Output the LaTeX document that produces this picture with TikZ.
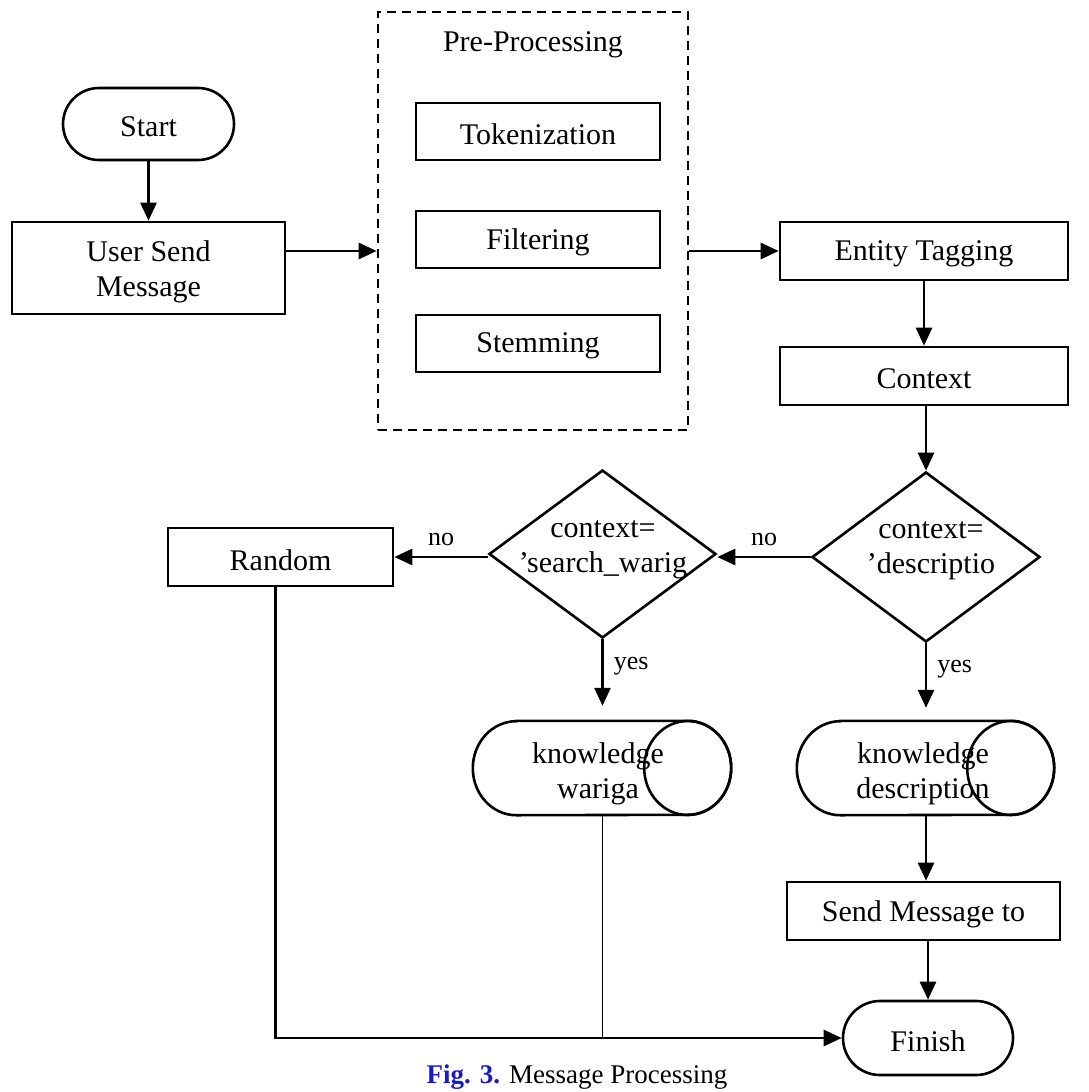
\documentclass[tikz,border=0pt]{standalone}
\usepackage{fontspec}
\setmainfont{Liberation Serif}
\usetikzlibrary{arrows.meta,shapes.geometric,calc}
\definecolor{figblue}{RGB}{25,25,200}
\begin{document}
\begin{tikzpicture}[x=1pt,y=-1pt,
  every node/.style={font=\fontsize{30}{35}\selectfont, inner sep=0pt},
  boxn/.style={draw, line width=2.6pt, rectangle, align=center},
  term/.style={draw, line width=2.6pt, rectangle, rounded corners=36pt},
  dec/.style={draw, line width=2.6pt, diamond, aspect=1.34},
  cylbox/.style={rectangle, align=center},
  lab/.style={font=\fontsize{26}{28}\selectfont},
  arr/.style={line width=2.6pt, -{Triangle[length=18pt,width=16pt]}},
  thinl/.style={line width=0.8pt}]
\useasboundingbox (0,0) rectangle (1089,1092);

% Start and user
\node[term, minimum width=171pt, minimum height=72pt] (start) at (148.5,124) {};
\node (startt) at (148.5,127) {Start};
\node[boxn, minimum width=273pt, minimum height=92pt] (user) at (148.5,268) {};
\node[align=center] (usert) at (148.5,272) {User Send\\Message};

% Pre-processing
\node[draw, line width=2.6pt, dash pattern=on 9pt off 6pt, minimum width=310pt, minimum height=418pt] (pre) at (533,221) {};
\node (pretitle) at (533,45) {Pre-Processing};
\node[boxn, minimum width=244pt, minimum height=57pt] (tok) at (538,131.5) {};
\node (tokt) at (538,134) {Tokenization};
\node[boxn, minimum width=244pt, minimum height=57pt] (fil) at (538,239.5) {};
\node (filt) at (538,242) {Filtering};
\node[boxn, minimum width=244pt, minimum height=57pt] (stem) at (538,343.5) {};
\node (stemt) at (538,346) {Stemming};

% right column
\node[boxn, minimum width=288pt, minimum height=58pt] (et) at (924,251) {};
\node (ett) at (924,254) {Entity Tagging};
\node[boxn, minimum width=288pt, minimum height=58pt] (ctx) at (924,376) {};
\node (ctxt) at (924,379) {Context};

% decisions
\node[dec, minimum width=228pt, minimum height=170pt] (d1) at (926,557) {};
\node[align=center] (d1t) at (931,551) {context=\\’descriptio};
\node[dec, minimum width=227pt, minimum height=168pt] (d2) at (602.5,554) {};
\node[align=center] (d2t) at (603,550) {context=\\’search\_warig};

\node[boxn, minimum width=225pt, minimum height=58pt] (rand) at (280.5,557) {};
\node (randt) at (280.5,560) {Random};

% cylinders
\node[cylbox, minimum width=258pt, minimum height=94pt] (kw) at (602,768) {};
\node[align=center] (kwt) at (598,774) {knowledge\\wariga};
\node[cylbox, minimum width=257pt, minimum height=94pt] (kd) at (925.5,768) {};
\node[align=center] (kdt) at (923,774) {knowledge\\description};
\foreach \c in {kw,kd}{
  \draw[line width=2.6pt] ([xshift=43.5pt]\c.north west) -- ([xshift=-43.5pt]\c.north east)
     arc[start angle=90,end angle=-90,x radius=43.5pt,y radius=47pt]
     -- ([xshift=43.5pt]\c.south west)
     arc[start angle=270,end angle=90,x radius=43.5pt,y radius=47pt] -- cycle;
  \draw[line width=2.6pt] ([xshift=-43.5pt]\c.east) ellipse[x radius=43.5pt,y radius=47pt];
}

\node[boxn, minimum width=273pt, minimum height=58pt] (send) at (923.5,911) {};
\node (sendt) at (923.5,914) {Send Message to};
\node[term, minimum width=170pt, minimum height=74pt, rounded corners=37pt] (fin) at (928,1038) {};
\node (fint) at (928,1041) {Finish};

% caption
\node[font=\fontsize{27}{30}\selectfont] (cap) at (577,1077) {\textcolor{figblue}{\textbf{Fig. 3.}} Message Processing};

% connectors
\draw[arr] (start) -- (user);
\draw[arr] (user.east |- et.west) -- (pre.west |- et.west);
\draw[arr] (pre.east |- et.west) -- (et.west);
\draw[arr] (et.south -| ctx.north) -- (ctx.north);
\draw[arr] (ctx.south -| d1.north) -- (d1.north);
\draw[arr] (d1.west) -- (d2.east |- d1.west) node[lab, midway, above=10pt] (no1) {no};
\draw[arr] (d2.west |- d1.west) -- (rand.east) node[lab, midway, above=10pt] (no2) {no};
\draw[arr] (d2.south) -- ([yshift=15pt]d2.south |- kw.north) node[lab, pos=0.4, right=10pt] (yes2) {yes};
\draw[arr] (d1.south) -- ([yshift=13pt]d1.south |- kd.north) node[lab, pos=0.4, right=10pt] (yes1) {yes};
\draw[arr] (kd.south -| d1.south) -- (d1.south |- send.north);
\draw[arr] (send.south -| fin.north) -- (fin.north);
\draw[arr] ([xshift=-5pt]rand.south) -- ([xshift=-5pt]rand.south |- fin.west) -- (fin.west);
\draw[thinl] (kw.south) -- (kw.south |- fin.west);
\end{tikzpicture}
\end{document}
